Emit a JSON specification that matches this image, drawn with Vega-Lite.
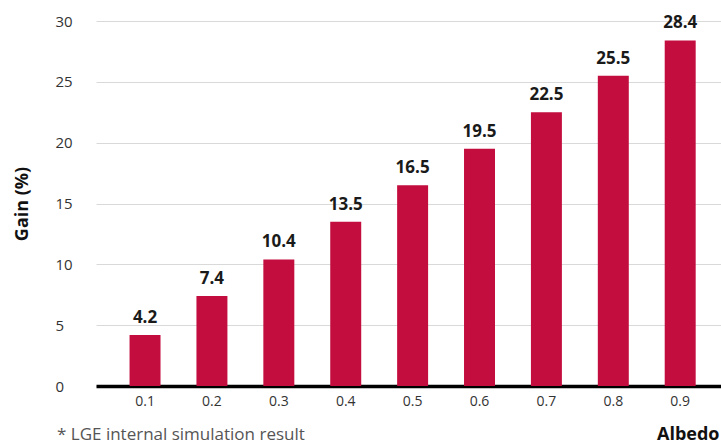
{
  "$schema": "https://vega.github.io/schema/vega-lite/v6.json",
  "width": 625,
  "height": 365,
  "autosize": "none",
  "padding": {"left": 96, "top": 21, "right": 0, "bottom": 62},
  "background": "white",
  "title": {
    "text": "* LGE internal simulation result",
    "orient": "bottom",
    "anchor": "start",
    "frame": "group",
    "dx": -39,
    "offset": -16,
    "font": "Open Sans",
    "fontSize": 17,
    "fontWeight": "normal",
    "color": "#555555"
  },
  "data": {
    "values": [
      {"albedo": "0.1", "gain": 4.2},
      {"albedo": "0.2", "gain": 7.4},
      {"albedo": "0.3", "gain": 10.4},
      {"albedo": "0.4", "gain": 13.5},
      {"albedo": "0.5", "gain": 16.5},
      {"albedo": "0.6", "gain": 19.5},
      {"albedo": "0.7", "gain": 22.5},
      {"albedo": "0.8", "gain": 25.5},
      {"albedo": "0.9", "gain": 28.4}
    ]
  },
  "config": {
    "view": {"stroke": null},
    "font": "Open Sans"
  },
  "encoding": {
    "x": {
      "field": "albedo",
      "type": "ordinal",
      "sort": null,
      "scale": {"paddingInner": 0.537, "paddingOuter": 0.44, "align": 0.57},
      "axis": {
        "title": "Albedo",
        "titleAnchor": "end",
        "titleAlign": "right",
        "titleX": 623,
        "titleFontSize": 18,
        "titleFontWeight": "bold",
        "titleColor": "#111111",
        "titlePadding": 17,
        "labelAngle": 0,
        "labelFontSize": 14,
        "labelColor": "#333333",
        "labelPadding": 8,
        "ticks": false,
        "domainColor": "#000000",
        "domainWidth": 3.5
      }
    },
    "y": {
      "field": "gain",
      "type": "quantitative",
      "scale": {"domain": [0, 30]},
      "axis": {
        "title": "Gain (%)",
        "titleFontSize": 18,
        "titleFontWeight": "bold",
        "titleColor": "#111111",
        "titleX": -65,
        "values": [0, 5, 10, 15, 20, 25, 30],
        "labelAlign": "left",
        "labelPadding": 41,
        "labelFontSize": 15,
        "labelColor": "#333333",
        "ticks": false,
        "domain": false,
        "gridColor": "#d9d9d9",
        "gridWidth": 1
      }
    }
  },
  "layer": [
    {"mark": {"type": "bar", "color": "#C30D3E"}},
    {
      "mark": {"type": "text", "baseline": "bottom", "dy": -8, "fontSize": 17, "fontWeight": "bold", "color": "#1a1a1a"},
      "encoding": {"text": {"field": "gain", "type": "quantitative", "format": ".1f"}}
    }
  ]
}
